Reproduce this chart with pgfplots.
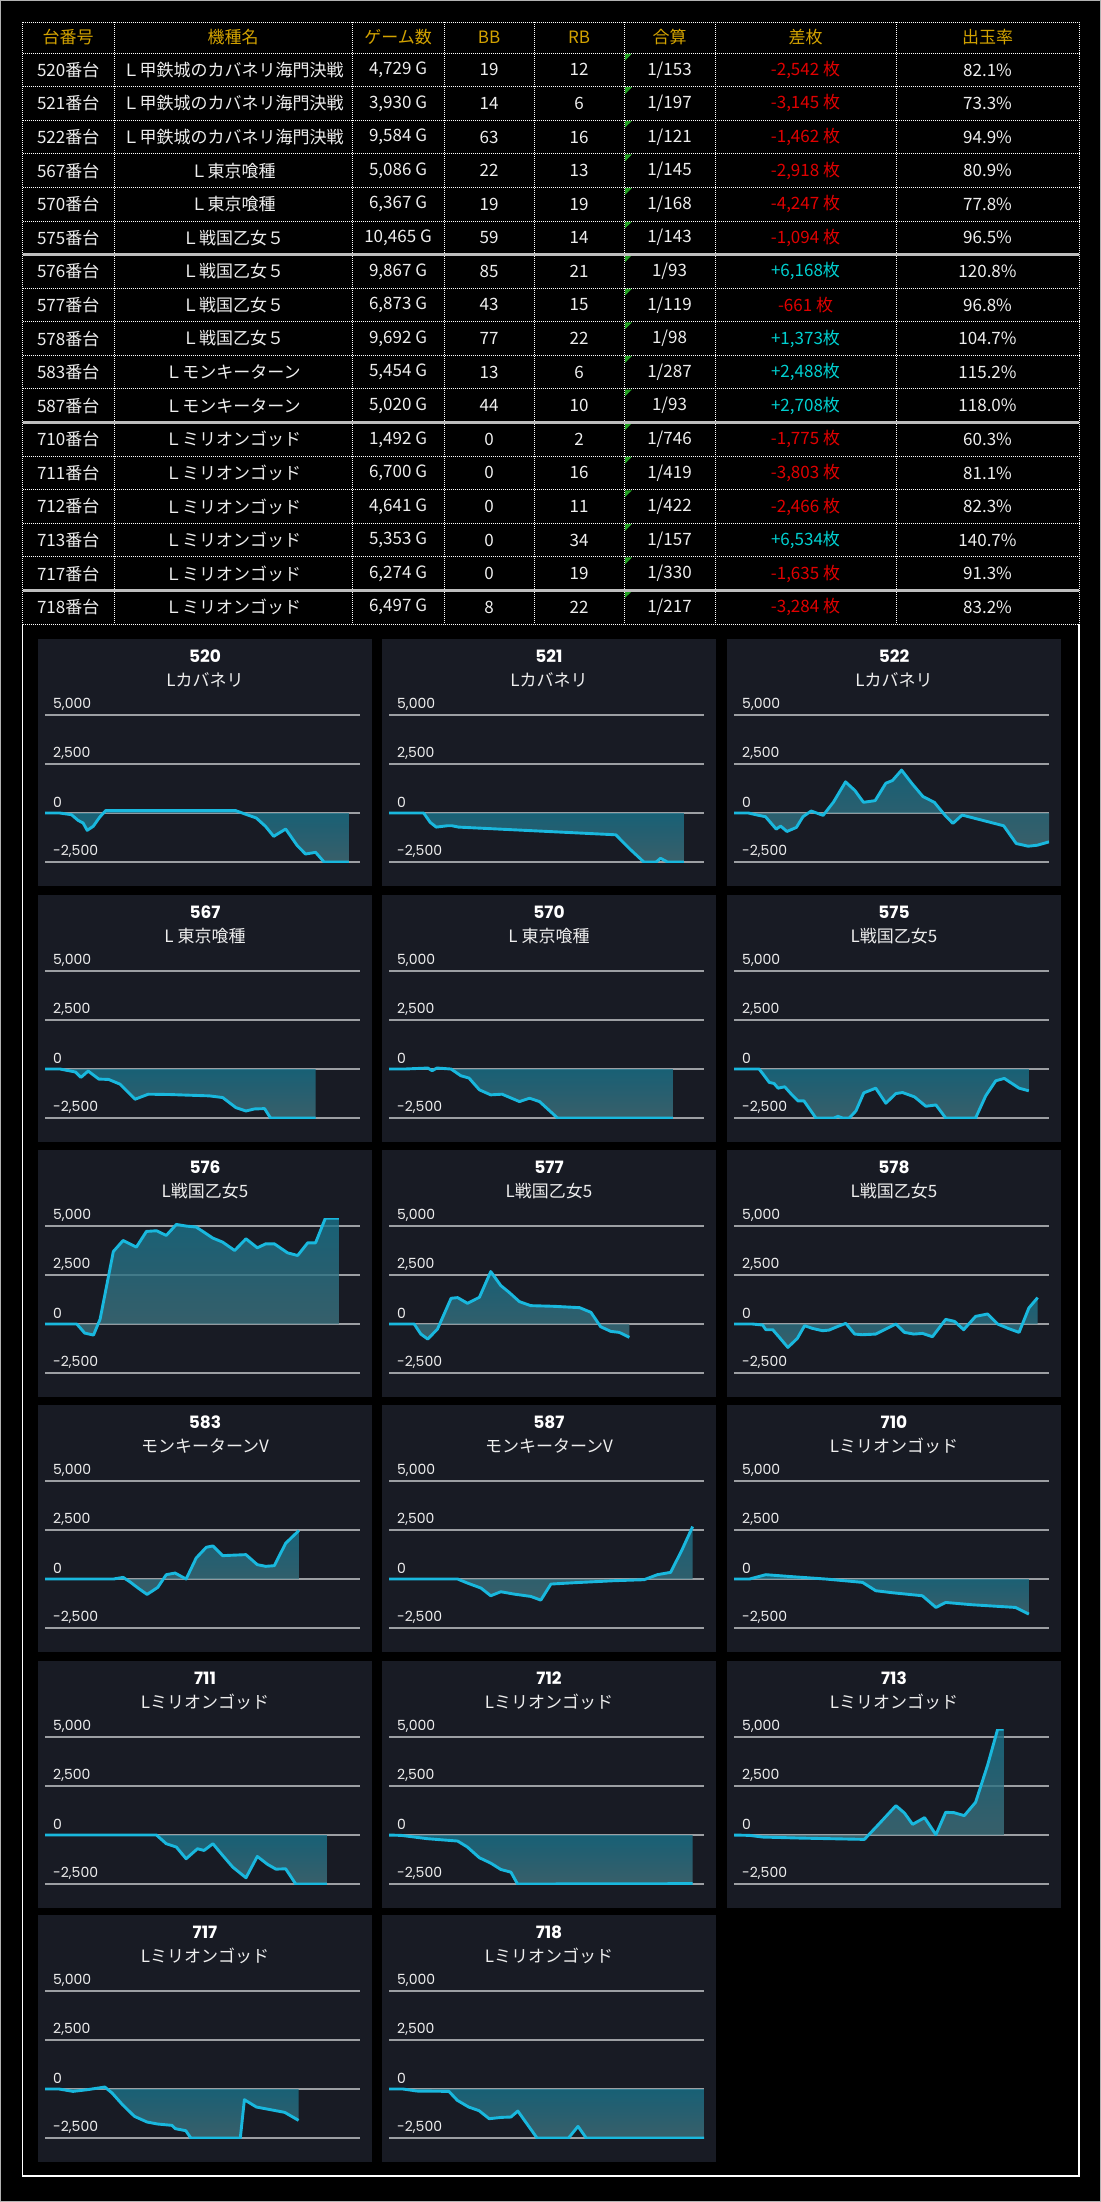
\documentclass[border=0pt]{standalone}
\usepackage{fontspec}
\usepackage{pgfplots}
\usepackage{pgfplotstable}
\pgfplotsset{compat=1.18}
\setmainfont{Noto Sans CJK JP}
\newfontfamily\pop{Poppins}

\definecolor{panelbg}{HTML}{181B24}
\definecolor{gridgray}{HTML}{9C9FA3}
\definecolor{linecol}{HTML}{19B8DE}
\definecolor{fillTop}{HTML}{18728A}
\definecolor{fillBot}{HTML}{41707B}
\definecolor{gold}{HTML}{D2A200}
\definecolor{negc}{HTML}{E00000}
\definecolor{posc}{HTML}{00D0D0}
\definecolor{textw}{HTML}{EEEEEE}
\definecolor{sepgray}{HTML}{BDBDBD}
\definecolor{tri}{HTML}{22A022}

\pgfplotstableread[row sep=\\]{x y\\
0 0\\ 4.7 0\\ 8.4 -85\\ 10.5 -374\\ 12.1 -510\\ 13.4 -884\\ 15.3 -680\\ 17.4 -204\\ 19.3 130\\ 60.4 130\\ 64.1 -85\\ 67.1 -255\\ 70.0 -680\\ 72.6 -1190\\ 76.4 -816\\ 80.1 -1666\\ 82.7 -2091\\ 85.9 -2006\\ 88.6 -2500\\ 96.5 -2500\\
}\tA
\pgfplotstableread[row sep=\\]{x y\\
0 0\\ 11.0 0\\ 13.1 -479\\ 15.0 -718\\ 18.5 -650\\ 20.0 -650\\ 22.1 -718\\ 72.0 -1111\\ 76.2 -1796\\ 80.9 -2500\\ 84.8 -2500\\ 86.2 -2310\\ 88.4 -2500\\ 93.6 -2500\\
}\tB
\pgfplotstableread[row sep=\\]{x y\\
0 0\\ 4.6 0\\ 7.4 -103\\ 10.0 -188\\ 13.4 -821\\ 14.8 -667\\ 16.8 -941\\ 19.8 -735\\ 21.9 -188\\ 24.5 103\\ 28.3 -120\\ 31.6 564\\ 35.4 1590\\ 38.4 1146\\ 41.1 547\\ 44.8 633\\ 48.2 1522\\ 50.3 1659\\ 53.2 2189\\ 56.5 1505\\ 60.0 838\\ 63.6 547\\ 67.1 -137\\ 69.5 -530\\ 72.4 -103\\ 85.6 -650\\ 89.6 -1556\\ 93.4 -1693\\ 96.3 -1642\\ 100 -1471\\
}\tC
\pgfplotstableread[row sep=\\]{x y\\
0 0\\ 4.8 0\\ 9.7 -154\\ 11.4 -428\\ 13.7 -103\\ 17.1 -514\\ 20.2 -531\\ 23.8 -771\\ 28.6 -1541\\ 32.8 -1284\\ 39.6 -1301\\ 52.2 -1370\\ 56.4 -1455\\ 60.6 -1969\\ 63.8 -2140\\ 66.5 -2037\\ 69.7 -2020\\ 71.6 -2500\\ 85.9 -2500\\
}\tD
\pgfplotstableread[row sep=\\]{x y\\
0 0\\ 4.9 0\\ 12.3 51\\ 13.7 -86\\ 15.2 51\\ 19.7 0\\ 22.8 -342\\ 25.4 -462\\ 28.7 -1062\\ 32.3 -1318\\ 35.9 -1284\\ 41.4 -1661\\ 44.6 -1489\\ 47.8 -1661\\ 53.5 -2500\\ 90.1 -2500\\
}\tE
\pgfplotstableread[row sep=\\]{x y\\
0 0\\ 8.0 0\\ 11.2 -685\\ 12.7 -736\\ 14.0 -976\\ 16.1 -907\\ 18.2 -1284\\ 20.3 -1626\\ 22.2 -1626\\ 26.0 -2500\\ 31.7 -2500\\ 33.0 -2414\\ 34.5 -2500\\ 36.6 -2500\\ 38.7 -2140\\ 41.2 -1216\\ 45.0 -976\\ 48.2 -1746\\ 51.4 -1250\\ 53.5 -1199\\ 57.3 -1421\\ 60.9 -1900\\ 64.1 -1832\\ 67.2 -2500\\ 76.7 -2500\\ 79.9 -1370\\ 83.1 -599\\ 85.8 -479\\ 90.5 -976\\ 93.6 -1113\\
}\tF
\pgfplotstableread[row sep=\\]{x y\\
0 0\\ 10.1 0\\ 12.6 -461\\ 15.4 -563\\ 17.5 256\\ 21.7 3702\\ 24.8 4265\\ 29.0 3924\\ 32.2 4726\\ 35.4 4760\\ 38.5 4521\\ 41.7 5084\\ 44.8 4999\\ 48.0 4948\\ 53.3 4385\\ 56.4 4180\\ 60.2 3753\\ 63.8 4350\\ 67.4 3890\\ 70.1 4094\\ 72.8 4094\\ 77.0 3634\\ 80.2 3497\\ 83.4 4145\\ 85.9 4145\\ 89.0 5400\\ 93.3 5400\\
}\tG
\pgfplotstableread[row sep=\\]{x y\\
0 0\\ 8.0 0\\ 10.1 -512\\ 12.3 -768\\ 15.4 -256\\ 19.7 1314\\ 21.8 1348\\ 24.9 1058\\ 28.7 1365\\ 32.3 2678\\ 35.5 1962\\ 38.1 1621\\ 41.4 1143\\ 45.0 938\\ 52.4 904\\ 60.5 836\\ 64.1 597\\ 67.2 -137\\ 70.4 -375\\ 73.1 -426\\ 76.3 -682\\
}\tH
\pgfplotstableread[row sep=\\]{x y\\
0 0\\ 5.9 0\\ 9.1 -51\\ 10.1 -290\\ 12.3 -290\\ 14.4 -682\\ 17.1 -1194\\ 20.1 -734\\ 22.4 -85\\ 24.9 -222\\ 28.1 -341\\ 30.2 -307\\ 33.0 -119\\ 35.5 34\\ 38.3 -512\\ 40.8 -546\\ 45.0 -512\\ 48.2 -256\\ 51.4 0\\ 54.1 -426\\ 57.1 -512\\ 59.8 -478\\ 63.0 -648\\ 67.2 239\\ 70.0 136\\ 72.9 -290\\ 76.7 392\\ 80.5 512\\ 83.7 0\\ 87.3 -239\\ 90.5 -426\\ 93.6 819\\ 96.4 1348\\
}\tI
\pgfplotstableread[row sep=\\]{x y\\
0 0\\ 21.7 0\\ 24.8 85\\ 26.9 -136\\ 29.7 -478\\ 32.4 -785\\ 35.8 -426\\ 38.5 222\\ 41.3 307\\ 44.8 0\\ 48.0 1075\\ 51.2 1621\\ 53.3 1689\\ 56.4 1194\\ 63.8 1245\\ 67.4 733\\ 70.1 648\\ 72.8 682\\ 76.4 1826\\ 80.6 2474\\
}\tJ
\pgfplotstableread[row sep=\\]{x y\\
0 0\\ 21.8 0\\ 24.9 -205\\ 29.2 -461\\ 32.3 -853\\ 35.5 -648\\ 39.7 -768\\ 45.0 -887\\ 48.2 -1075\\ 51.4 -256\\ 58.8 -188\\ 71.5 -85\\ 81.0 -34\\ 85.2 222\\ 89.4 341\\ 93.0 1484\\ 96.4 2678\\
}\tK
\pgfplotstableread[row sep=\\]{x y\\
0 0\\ 4.9 0\\ 10.1 222\\ 18.6 119\\ 29.2 0\\ 40.8 -171\\ 45.0 -597\\ 50.3 -699\\ 59.8 -853\\ 64.1 -1450\\ 67.2 -1194\\ 75.7 -1313\\ 89.4 -1450\\ 93.6 -1791\\
}\tL
\pgfplotstableread[row sep=\\]{x y\\
0 0\\ 35.4 0\\ 38.5 -443\\ 41.7 -614\\ 44.8 -1211\\ 48.4 -699\\ 50.5 -785\\ 53.3 -443\\ 56.4 -1040\\ 59.6 -1637\\ 63.8 -2183\\ 67.4 -1092\\ 70.7 -1501\\ 73.3 -1740\\ 76.4 -1723\\ 79.6 -2500\\ 89.5 -2500\\
}\tM
\pgfplotstableread[row sep=\\]{x y\\
0 0\\ 3.8 -17\\ 12.3 -188\\ 21.8 -307\\ 24.9 -614\\ 28.7 -1160\\ 32.3 -1433\\ 35.5 -1757\\ 38.7 -1894\\ 40.8 -2500\\ 96.4 -2480\\
}\tN
\pgfplotstableread[row sep=\\]{x y\\
0 0\\ 4.9 -17\\ 9.1 -102\\ 20.7 -154\\ 41.4 -222\\ 46.1 580\\ 51.4 1501\\ 54.1 1126\\ 56.7 546\\ 60.5 887\\ 64.1 17\\ 67.2 1160\\ 69.8 1143\\ 73.1 990\\ 76.7 1672\\ 80.5 3565\\ 83.7 5400\\ 85.6 5400\\
}\tO
\pgfplotstableread[row sep=\\]{x y\\
0 0\\ 4.5 0\\ 8.9 -119\\ 13.4 -34\\ 19.0 102\\ 21.3 -204\\ 24.6 -799\\ 28.4 -1394\\ 32.4 -1683\\ 35.8 -1785\\ 40.3 -1853\\ 41.4 -2023\\ 44.7 -2125\\ 46.3 -2500\\ 62.0 -2500\\ 63.3 -544\\ 67.1 -918\\ 71.6 -1054\\ 76.1 -1190\\ 80.5 -1598\\
}\tP
\pgfplotstableread[row sep=\\]{x y\\
0 0\\ 4.5 0\\ 8.9 -102\\ 19.0 -119\\ 21.7 -578\\ 25.3 -918\\ 28.6 -1105\\ 31.8 -1513\\ 35.8 -1445\\ 38.7 -1428\\ 40.9 -1122\\ 43.6 -1734\\ 47.0 -2500\\ 57.0 -2500\\ 60.0 -1904\\ 62.6 -2500\\ 100 -2500\\
}\tQ

\pgfplotsset{panelax/.style={
  scale only axis, width=315bp, height=155.6bp,
  xmin=0, xmax=100, ymin=-2530, ymax=5410,
  axis line style={draw=none}, xtick=\empty, ytick=\empty,
  clip=true}}

\newcommand{\panel}[5]{%
  \fill[panelbg] (#1bp,-#2bp) rectangle ++(334bp,-247bp);
  \node[text=white, font=\pop\bfseries\fontsize{17bp}{19bp}\selectfont] at ({#1bp+167bp},{-#2bp-17bp}) {#3};
  \node[text=textw, font=\fontsize{17bp}{19bp}\selectfont] at ({#1bp+167bp},{-#2bp-41bp}) {#4};
  \begin{axis}[panelax, at={({#1bp+7bp},{-#2bp-223.6bp})}, anchor=south west]
    \foreach \gv in {-2500,0,2500,5000}{
      \edef\tmp{\noexpand\draw[gridgray, line width=1.8bp] (axis cs:0,\gv) -- (axis cs:100,\gv);}\tmp
    }
    \addplot[draw=none, top color=fillTop, bottom color=fillBot, fill opacity=0.8] table {#5} |- (axis cs:0,0) -- cycle;
    \addplot[draw=linecol, line width=2.9bp, line join=round, mark=none] table {#5};
  \end{axis}
  \foreach \yy/\lab in {65.5/{5,000},114.5/{2,500},163.5/{0},212.5/{-2,500}}{
    \node[anchor=west, inner sep=0pt, text=textw, font=\pop\fontsize{14bp}{16bp}\selectfont] at ({#1bp+15bp},{-#2bp-\yy bp}) {\lab};
  }
}

\begin{document}
\begin{tikzpicture}
\useasboundingbox (0,0) rectangle (1101bp,-2202bp);
\fill[black] (0,0) rectangle (1101bp,-2202bp);
\draw[gray!60, line width=1bp] (0.5bp,-0.5bp) rectangle (1100.5bp,-2201.5bp);

% outer frame below table
\draw[white, line width=1.2bp] (22.5bp,-624bp) -- (22.5bp,-2176bp) -- (1079bp,-2176bp) -- (1079bp,-624bp);

% table text
\foreach \h/\cx in {台番号/68.2, 機種名/233, ゲーム数/398, BB/489, RB/579, 合算/669.5, 差枚/805.5, 出玉率/987.5}{
  \node[text=gold, font=\fontsize{17bp}{19bp}\selectfont] at (\cx bp,-37.5bp) {\h};
}
\foreach \num/\name/\g/\bb/\rb/\gs/\diff/\dc/\rate [count=\i from 0] in {
 520番台/Ｌ甲鉄城のカバネリ海門決戦/{4,729 G}/19/12/153/{-2,542 枚}/negc/82.1\%,
 521番台/Ｌ甲鉄城のカバネリ海門決戦/{3,930 G}/14/6/197/{-3,145 枚}/negc/73.3\%,
 522番台/Ｌ甲鉄城のカバネリ海門決戦/{9,584 G}/63/16/121/{-1,462 枚}/negc/94.9\%,
 567番台/Ｌ東京喰種/{5,086 G}/22/13/145/{-2,918 枚}/negc/80.9\%,
 570番台/Ｌ東京喰種/{6,367 G}/19/19/168/{-4,247 枚}/negc/77.8\%,
 575番台/Ｌ戦国乙女５/{10,465 G}/59/14/143/{-1,094 枚}/negc/96.5\%,
 576番台/Ｌ戦国乙女５/{9,867 G}/85/21/93/{+6,168枚}/posc/120.8\%,
 577番台/Ｌ戦国乙女５/{6,873 G}/43/15/119/{-661 枚}/negc/96.8\%,
 578番台/Ｌ戦国乙女５/{9,692 G}/77/22/98/{+1,373枚}/posc/104.7\%,
 583番台/Ｌモンキーターン/{5,454 G}/13/6/287/{+2,488枚}/posc/115.2\%,
 587番台/Ｌモンキーターン/{5,020 G}/44/10/93/{+2,708枚}/posc/118.0\%,
 710番台/Ｌミリオンゴッド/{1,492 G}/0/2/746/{-1,775 枚}/negc/60.3\%,
 711番台/Ｌミリオンゴッド/{6,700 G}/0/16/419/{-3,803 枚}/negc/81.1\%,
 712番台/Ｌミリオンゴッド/{4,641 G}/0/11/422/{-2,466 枚}/negc/82.3\%,
 713番台/Ｌミリオンゴッド/{5,353 G}/0/34/157/{+6,534枚}/posc/140.7\%,
 717番台/Ｌミリオンゴッド/{6,274 G}/0/19/330/{-1,635 枚}/negc/91.3\%,
 718番台/Ｌミリオンゴッド/{6,497 G}/8/22/217/{-3,284 枚}/negc/83.2\%}{
  \pgfmathsetmacro\yc{-(69.8+33.59*\i)}
  \pgfmathsetmacro\yt{-(53+33.59*\i)}
  \begin{scope}[font=\fontsize{17bp}{19bp}\selectfont, text=textw]
  \node at (68.2bp,\yc bp) {\num};
  \node at (233bp,\yc bp) {\name};
  \node at (398bp,\yc bp) {\g};
  \node at (489bp,\yc bp) {\bb};
  \node at (579bp,\yc bp) {\rb};
  \node at (669.5bp,\yc bp) {1/\gs};
  \node[text=\dc] at (805.5bp,\yc bp) {\diff};
  \node at (987.5bp,\yc bp) {\rate};
  \end{scope}
  \fill[tri] (625bp,\yt bp-0.6bp) -- (632bp,\yt bp-0.6bp) -- (625bp,\yt bp-7.5bp) -- cycle;
}
% table grid lines
\begin{scope}[white, line width=0.9bp, dash pattern=on 1bp off 1bp]
  \foreach \k in {0,...,17}{
    \pgfmathsetmacro\yl{-(53+33.59*\k)}
    \draw (22.5bp,\yl bp) -- (1079bp,\yl bp);
  }
  \draw (22.5bp,-22bp) -- (1079bp,-22bp);
  \foreach \xx in {22.5,114,352,444,534,624,715,896,1079}{
    \draw (\xx bp,-22bp) -- (\xx bp,-624bp);
  }
\end{scope}
\foreach \k in {6,11,16}{
  \pgfmathsetmacro\yl{-(53+33.59*\k)}
  \draw[sepgray, line width=2.4bp] (22.5bp,\yl bp) -- (1079bp,\yl bp);
}

% panels
\panel{38}{639}{520}{Lカバネリ}{\tA}
\panel{382}{639}{521}{Lカバネリ}{\tB}
\panel{727}{639}{522}{Lカバネリ}{\tC}
\panel{38}{895}{567}{L 東京喰種}{\tD}
\panel{382}{895}{570}{L 東京喰種}{\tE}
\panel{727}{895}{575}{L戦国乙女5}{\tF}
\panel{38}{1150}{576}{L戦国乙女5}{\tG}
\panel{382}{1150}{577}{L戦国乙女5}{\tH}
\panel{727}{1150}{578}{L戦国乙女5}{\tI}
\panel{38}{1405}{583}{モンキーターンV}{\tJ}
\panel{382}{1405}{587}{モンキーターンV}{\tK}
\panel{727}{1405}{710}{Lミリオンゴッド}{\tL}
\panel{38}{1661}{711}{Lミリオンゴッド}{\tM}
\panel{382}{1661}{712}{Lミリオンゴッド}{\tN}
\panel{727}{1661}{713}{Lミリオンゴッド}{\tO}
\panel{38}{1915}{717}{Lミリオンゴッド}{\tP}
\panel{382}{1915}{718}{Lミリオンゴッド}{\tQ}
\end{tikzpicture}
\end{document}
